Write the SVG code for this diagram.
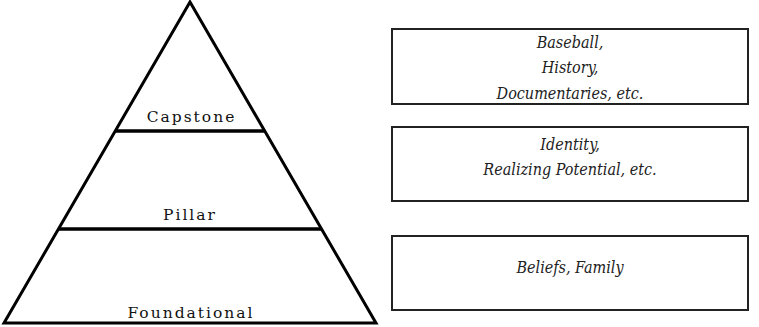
<svg xmlns="http://www.w3.org/2000/svg" width="759" height="327" viewBox="0 0 759 327">
<style>
.tri{fill:none;stroke:#000;stroke-width:3;stroke-linejoin:miter}
.tier{stroke:#000;stroke-width:3.5}
.lbl{font-family:"DejaVu Serif",serif;font-size:15.5px;letter-spacing:2px;fill:#111;text-anchor:middle}
.box{fill:#fff;stroke:#222;stroke-width:2}
.bt{font-family:"DejaVu Serif Condensed","DejaVu Serif",serif;font-stretch:condensed;font-style:italic;font-size:16px;fill:#222;text-anchor:middle}
</style>
<rect width="759" height="327" fill="#fff"/>
<g id="pyramid">
<polygon class="tri" points="190,2 4,323 376,323"/>
<line class="tier" x1="116" y1="131" x2="264" y2="131"/>
<line class="tier" x1="59" y1="229" x2="321" y2="229"/>
</g>
<g id="capstone"><text class="lbl" x="191.5" y="122">Capstone</text></g>
<g id="pillar"><text class="lbl" x="190" y="220">Pillar</text></g>
<g id="foundational"><text class="lbl" x="191" y="318">Foundational</text></g>
<g id="box-capstone">
<rect class="box" x="392" y="29" width="356" height="75"/>
<text class="bt" x="570" y="48">Baseball,</text>
<text class="bt" x="570" y="73">History,</text>
<text class="bt" x="570" y="99">Documentaries, etc.</text>
</g>
<g id="box-pillar">
<rect class="box" x="392" y="127" width="356" height="74"/>
<text class="bt" x="570" y="150">Identity,</text>
<text class="bt" x="570" y="175">Realizing Potential, etc.</text>
</g>
<g id="box-foundational">
<rect class="box" x="392" y="236" width="356" height="74"/>
<text class="bt" x="570" y="273">Beliefs, Family</text>
</g>
</svg>
